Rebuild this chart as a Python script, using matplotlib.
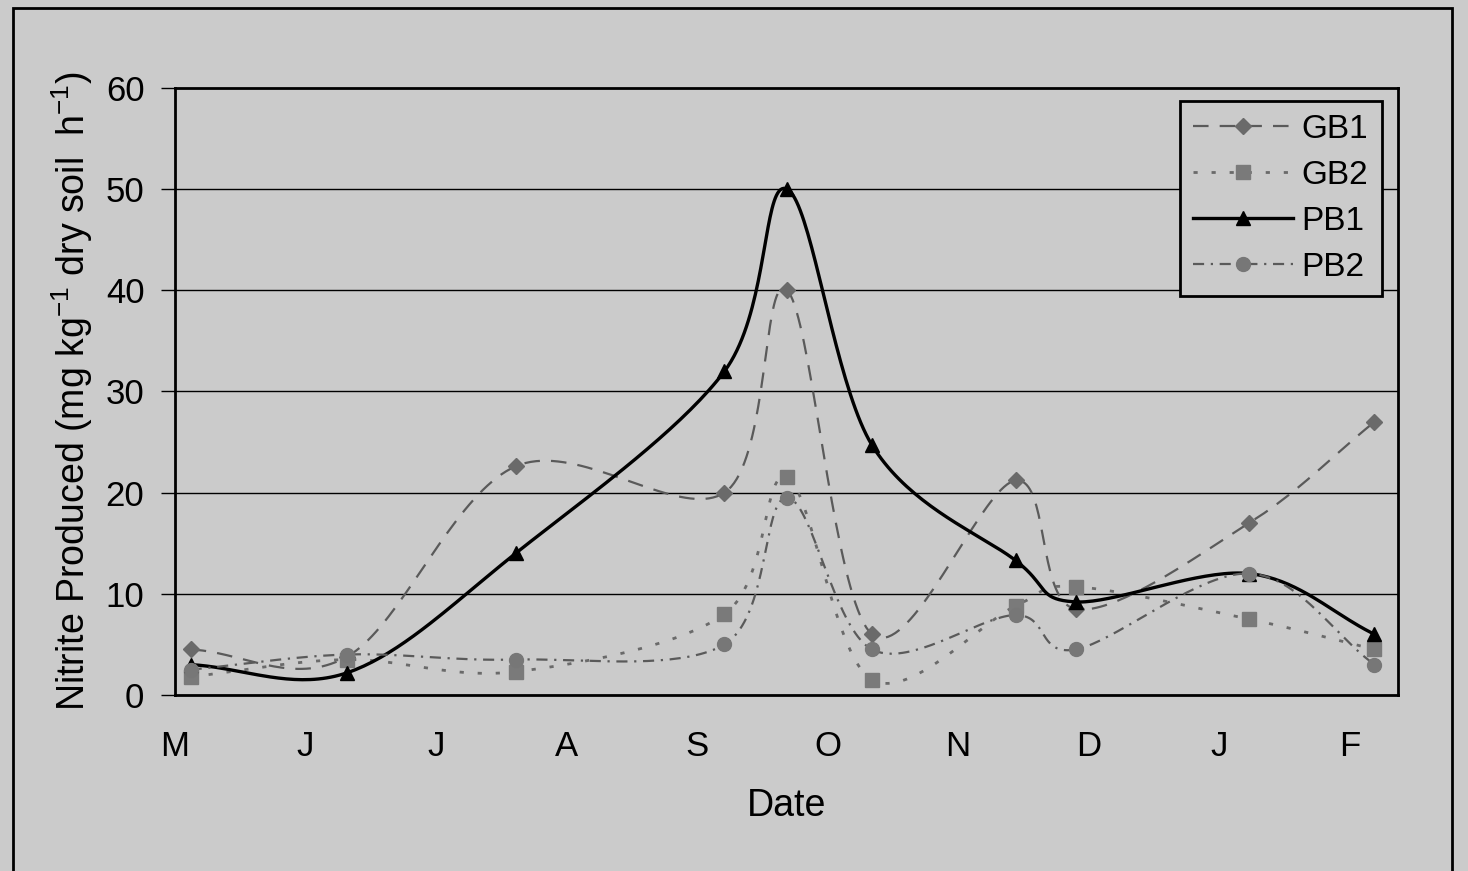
import numpy as np
import matplotlib.pyplot as plt
from matplotlib.patches import Rectangle

plt.rcParams['font.family'] = ['Liberation Sans', 'DejaVu Sans']
plt.rcParams['mathtext.fontset'] = 'custom'
plt.rcParams['mathtext.rm'] = 'Liberation Sans'
plt.rcParams['mathtext.it'] = 'Liberation Sans'

# sampling dates, in months after the start of May
dates = [0.12, 1.32, 2.61, 4.21, 4.69, 5.34, 6.44, 6.90, 8.23, 9.19]
month_labels = ['M', 'J', 'J', 'A', 'S', 'O', 'N', 'D', 'J', 'F']

gb1 = [4.5, 3.8, 22.6, 20.0, 40.0, 6.0, 21.2, 8.5, 17.0, 27.0]
gb2 = [1.8, 3.5, 2.3, 8.0, 21.5, 1.5, 8.8, 10.7, 7.5, 4.5]
pb1 = [3.0, 2.2, 14.0, 32.0, 50.0, 24.7, 13.3, 9.2, 12.0, 6.0]
pb2 = [2.5, 4.0, 3.5, 5.0, 19.5, 4.5, 7.9, 4.5, 12.0, 3.0]


def smooth(x, y, n=40):
    # uniform Catmull-Rom curve through the points (spreadsheet-style smoothing)
    p = np.column_stack([x, y]).astype(float)
    p = np.vstack([2 * p[0] - p[1], p, 2 * p[-1] - p[-2]])
    out = []
    t = np.linspace(0, 1, n)[:, None]
    for i in range(1, len(p) - 2):
        p0, p1, p2, p3 = p[i - 1], p[i], p[i + 1], p[i + 2]
        seg = 0.5 * ((2 * p1) + (-p0 + p2) * t
                     + (2 * p0 - 5 * p1 + 4 * p2 - p3) * t ** 2
                     + (-p0 + 3 * p1 - 3 * p2 + p3) * t ** 3)
        out.append(seg)
    out = np.vstack(out)
    return out[:, 0], out[:, 1]


bg = '#cbcbcb'
fig = plt.figure(figsize=(14.68, 8.71), dpi=100, facecolor=bg)
ax = fig.add_axes([0.1192, 0.2021, 0.8331, 0.6969], facecolor=bg)

series = [
    ('GB1', gb1, dict(color='#5a5a5a', ls=(0, (7, 5)), lw=1.6), dict(marker='D', ms=8, color='#6a6a6a')),
    ('GB2', gb2, dict(color='#6a6a6a', ls=(0, (1.5, 5)), lw=2.0), dict(marker='s', ms=10, color='#7a7a7a')),
    ('PB1', pb1, dict(color='black', ls='-', lw=2.4), dict(marker='^', ms=10, color='black')),
    ('PB2', pb2, dict(color='#5a5a5a', ls=(0, (5, 3, 1, 3)), lw=1.6), dict(marker='o', ms=10, color='#777777')),
]

for name, vals, lstyle, mstyle in series:
    sx, sy = smooth(dates, vals)
    ax.plot(sx, sy, **lstyle, zorder=3)
    ax.plot(dates, vals, ls='none', marker=mstyle['marker'], ms=mstyle['ms'],
            color=mstyle['color'], zorder=4)
    # proxy artist for the legend
    ax.plot([], [], label=name, marker=mstyle['marker'], ms=mstyle['ms'],
            markerfacecolor=mstyle['color'], markeredgecolor=mstyle['color'], **lstyle)

ax.set_xlim(0, 9.37)
ax.set_ylim(0, 60)
ax.set_yticks(range(0, 61, 10))
ax.set_xticks(range(10))
ax.set_xticklabels(month_labels)
ax.tick_params(axis='y', direction='out', length=10, width=1, labelsize=25, pad=12)
ax.tick_params(axis='x', length=0, labelsize=25, pad=25)
for v in range(10, 60, 10):
    ax.axhline(v, color='black', lw=1, zorder=1)
for s in ax.spines.values():
    s.set_linewidth(2)

ax.set_xlabel('Date', fontsize=27, labelpad=18)
ax.set_ylabel('Nitrite Produced (mg kg$^{-1}$ dry soil  h$^{-1}$)', fontsize=27, labelpad=8)

leg = ax.legend(loc='upper right', bbox_to_anchor=(0.992, 0.99), fontsize=24,
                frameon=True, fancybox=False, handlelength=3.0, handletextpad=0.25,
                labelspacing=0.45, borderpad=0.4, borderaxespad=0.2,
                facecolor=bg, framealpha=1)
leg.get_frame().set_edgecolor('black')
leg.get_frame().set_linewidth(2)

# outer chart border
fig.patches.append(Rectangle((13 / 1468, -0.05), (1452 - 13) / 1468, 1.05 - 8 / 871,
                             transform=fig.transFigure, fill=False, ec='black', lw=2))

fig.savefig('out.png', dpi=100, facecolor=bg)
